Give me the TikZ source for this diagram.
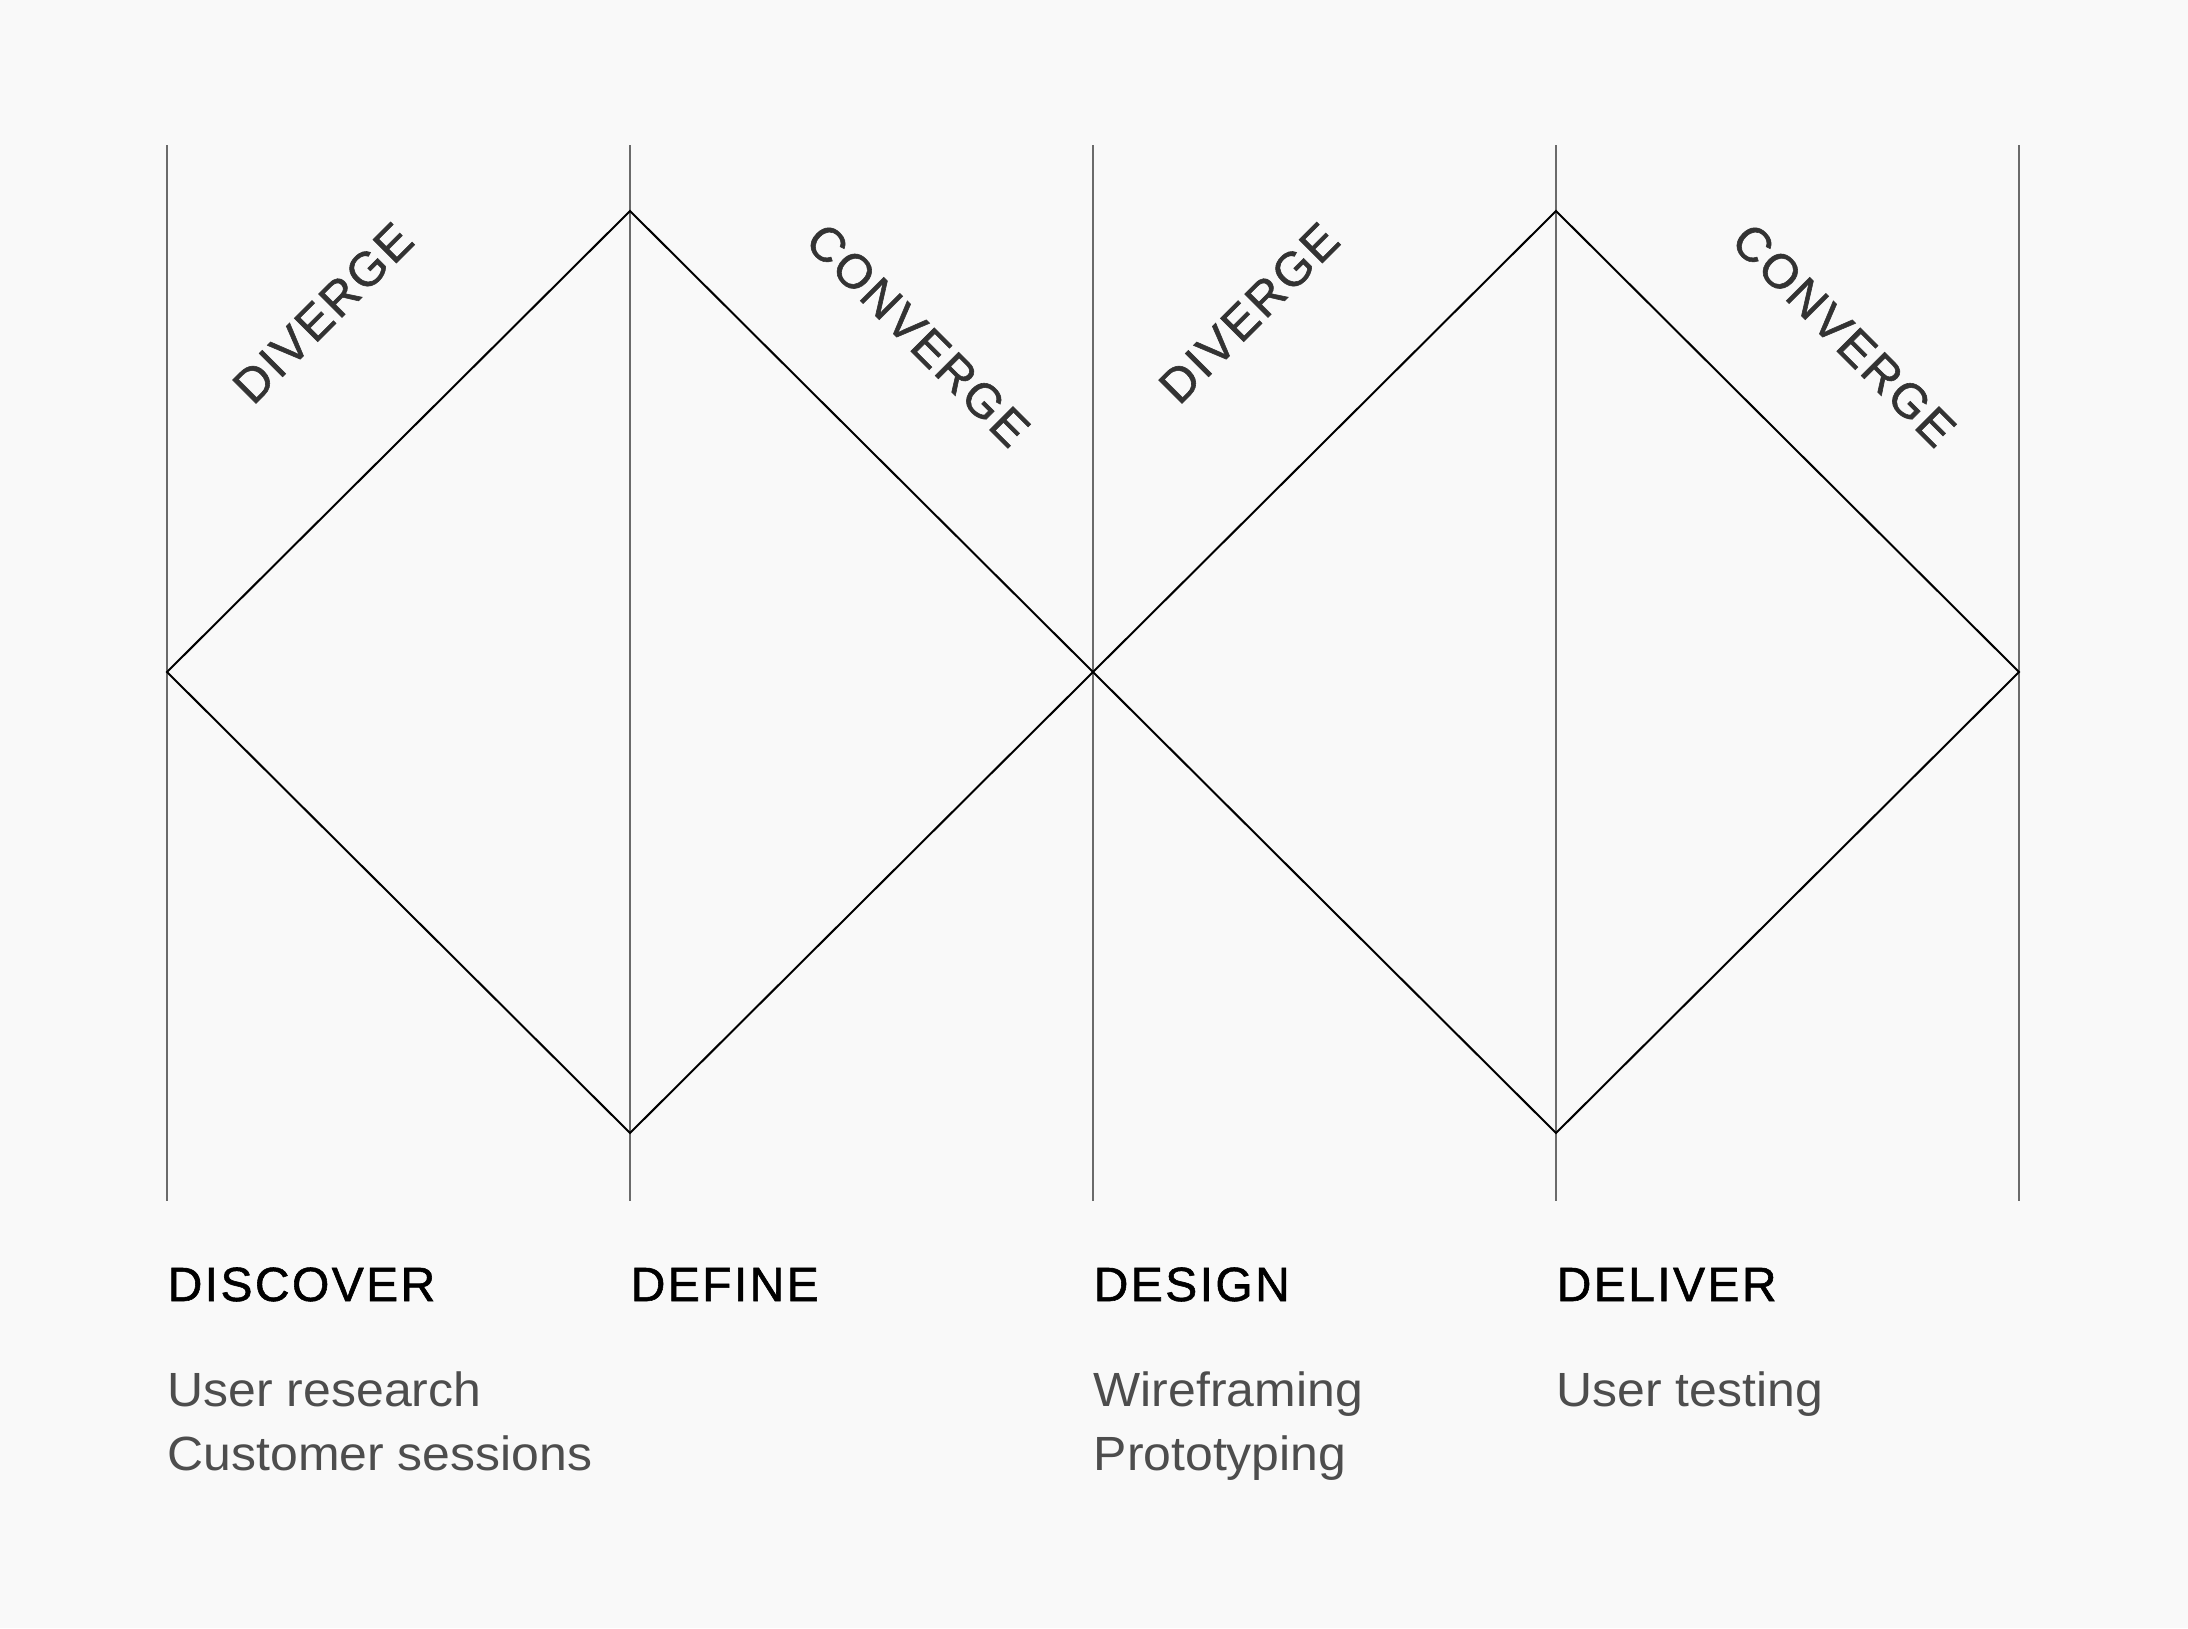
\documentclass[tikz,border=0pt]{standalone}
\usepackage{xcolor}
\usepackage{fontspec}
\setmainfont{Liberation Sans}
\newfontfamily\spacedfont[LetterSpace=5,FakeBold=1.2]{Liberation Sans}
\newfontfamily\bodyfont[FakeStretch=1.04]{Liberation Sans}
\definecolor{paper}{HTML}{F9F9F9}
\definecolor{rulegray}{HTML}{6B6B6B}
\definecolor{bodygray}{HTML}{4D4D4D}
\definecolor{labelgray}{HTML}{333333}
\tikzset{
  phase/.style={anchor=base west, inner sep=0pt, text=black,
    font=\spacedfont\fontsize{13.66pt}{18pt}\selectfont},
  activity/.style={anchor=base west, inner sep=0pt, text=bodygray,
    font=\bodyfont\fontsize{13.66pt}{18pt}\selectfont},
  mode/.style={inner sep=0pt, text=labelgray,
    font=\spacedfont\fontsize{13.66pt}{18pt}\selectfont},
  divider/.style={rulegray, line width=0.57pt},
  edge/.style={black, line width=0.57pt}
}

\begin{document}
\begin{tikzpicture}
\fill[paper] (0,0) rectangle (21.88,-16.28);
\foreach \i/\x in {0/1.67,1/6.30,2/10.93,3/15.56,4/20.19}{
  \coordinate (top\i) at (\x,-1.45);
  \coordinate (bot\i) at (\x,-12.01);
  \draw[divider] (top\i) -- (bot\i);
}
\coordinate (west) at (1.67,-6.72);
\coordinate (apexA) at (6.30,-2.11);
\coordinate (nadirA) at (6.30,-11.33);
\coordinate (mid) at (10.93,-6.72);
\coordinate (apexB) at (15.56,-2.11);
\coordinate (nadirB) at (15.56,-11.33);
\coordinate (east) at (20.19,-6.72);
\draw[edge] (west) -- (apexA) -- (mid) -- (nadirA) -- cycle;
\draw[edge] (mid) -- (apexB) -- (east) -- (nadirB) -- cycle;

\node[mode, rotate=45] (divA) at (3.23,-3.13) {DIVERGE};
\node[mode, rotate=-45] (conA) at (9.18,-3.35) {CONVERGE};
\node[mode, rotate=45] (divB) at (12.49,-3.13) {DIVERGE};
\node[mode, rotate=-45] (conB) at (18.44,-3.35) {CONVERGE};

\node[phase] (discover) at (1.67,-13.01) {DISCOVER};
\node[phase] (define) at (6.30,-13.01) {DEFINE};
\node[phase] (design) at (10.93,-13.01) {DESIGN};
\node[phase] (deliver) at (15.56,-13.01) {DELIVER};

\node[activity] (research) at (1.67,-14.06) {User research};
\node[activity] (sessions) at (1.67,-14.70) {Customer sessions};
\node[activity] (wireframe) at (10.93,-14.06) {Wireframing};
\node[activity] (prototype) at (10.93,-14.70) {Prototyping};
\node[activity] (testing) at (15.56,-14.06) {User testing};
\end{tikzpicture}
\end{document}
